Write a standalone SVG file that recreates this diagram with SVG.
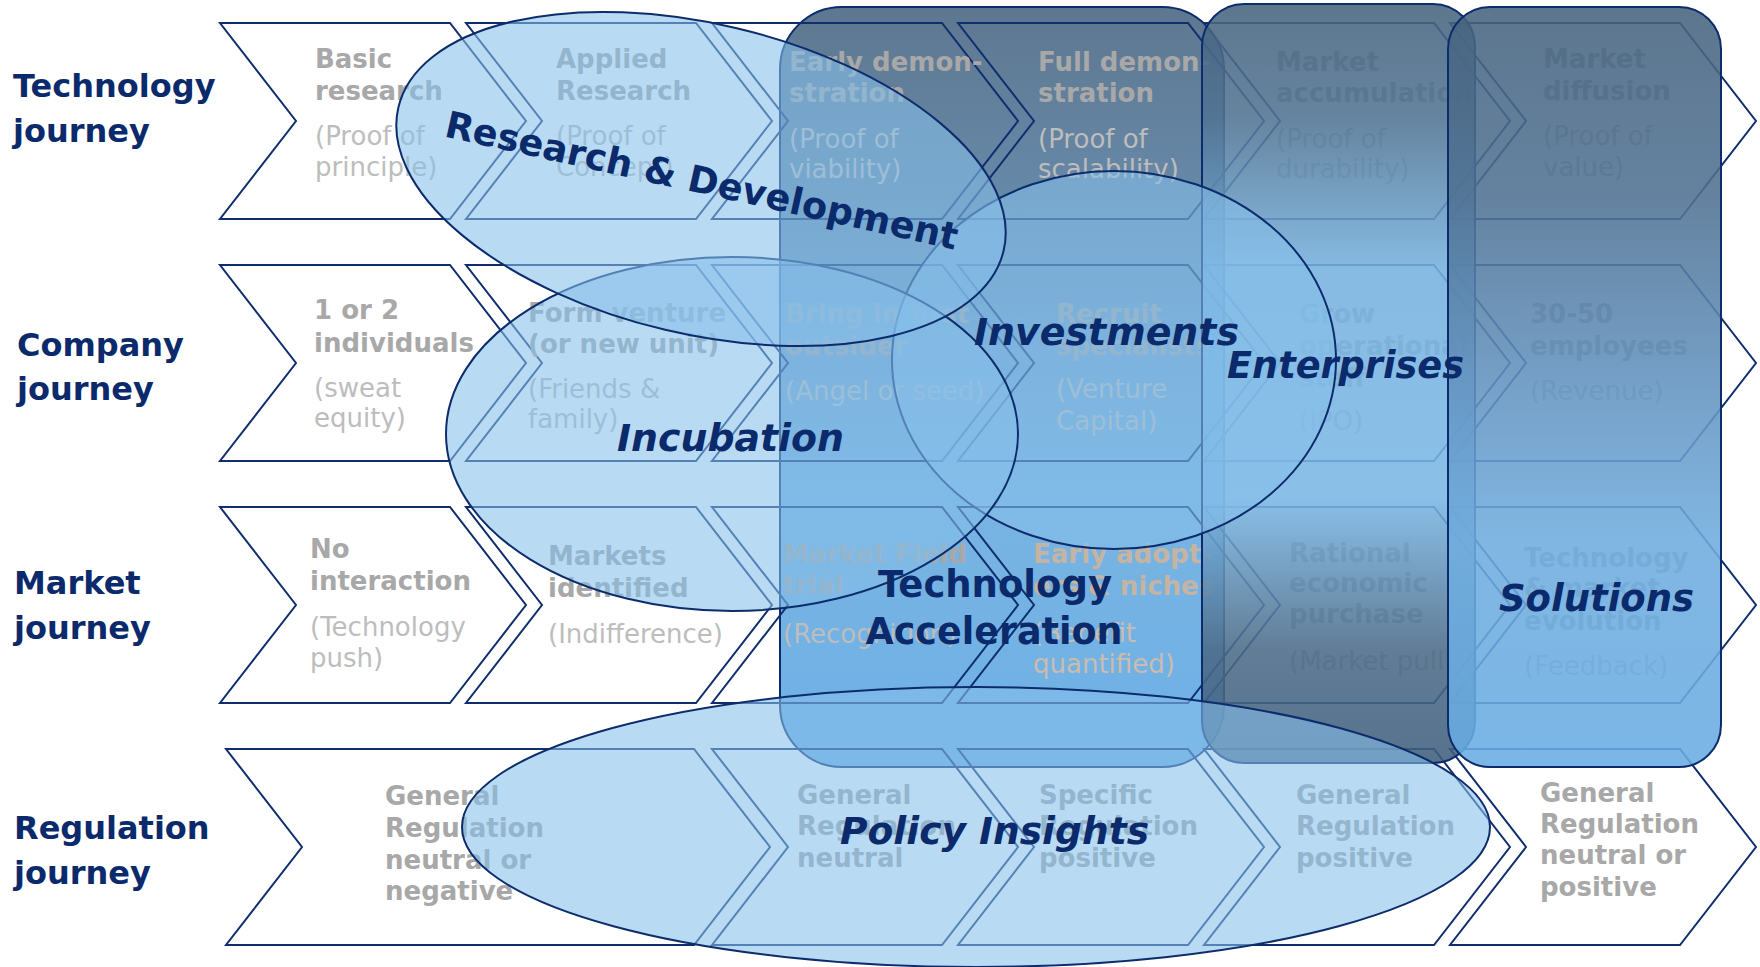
<svg xmlns="http://www.w3.org/2000/svg" width="1760" height="967" viewBox="0 0 1760 967">
<defs>
<style>
.chev{fill:none;stroke:#0f2e6e;stroke-width:2}
.t{font-family:"DejaVu Sans",Verdana,sans-serif;font-size:26px;font-weight:bold;fill:#a8a8a8}
.s{font-family:"DejaVu Sans",Verdana,sans-serif;font-size:26px;fill:#bdbdbd}
.tw{fill:#c6b4a3}
.sw{fill:#cbbcad}
.row{font-family:"DejaVu Sans",Verdana,sans-serif;font-size:32px;font-weight:bold;fill:#0b2a6b}
.lbl{font-family:"DejaVu Sans",Verdana,sans-serif;font-size:37px;font-weight:bold;fill:#0b2a6b}
.it{font-style:italic}
.ell{fill:#86c0ea;fill-opacity:0.58;stroke:#0c2c6c;stroke-width:2}
.box{stroke:#0c2c6c;stroke-width:2}
</style>
<linearGradient id="gTA" x1="0" y1="0" x2="0" y2="1">
<stop offset="0" stop-color="#5e7790"/>
<stop offset="0.25" stop-color="#6689a8"/>
<stop offset="0.45" stop-color="#70a2cc"/>
<stop offset="0.65" stop-color="#78b4e2"/>
<stop offset="1" stop-color="#6eb0e6"/>
</linearGradient>
<linearGradient id="gEN" x1="0" y1="0" x2="0" y2="1">
<stop offset="0" stop-color="#46637e"/>
<stop offset="0.15" stop-color="#517392"/>
<stop offset="0.35" stop-color="#76b1de"/>
<stop offset="0.65" stop-color="#7ab7e5"/>
<stop offset="0.85" stop-color="#4c6b88"/>
<stop offset="1" stop-color="#3e5e7c"/>
</linearGradient>
<linearGradient id="gSO" x1="0" y1="0" x2="0" y2="1">
<stop offset="0" stop-color="#46637e"/>
<stop offset="0.25" stop-color="#4f7192"/>
<stop offset="0.5" stop-color="#6393c0"/>
<stop offset="0.7" stop-color="#6facde"/>
<stop offset="1" stop-color="#68ace3"/>
</linearGradient>
</defs>
<rect width="1760" height="967" fill="#ffffff"/>

<g id="box-technology-acceleration">
<rect class="box" x="780" y="7" width="444" height="760" rx="62" fill="url(#gTA)"/>
</g>

<g id="row-labels">
<g id="label-technology-journey"><text class="row" x="13" y="97">Technology</text><text class="row" x="13" y="142">journey</text></g>
<g id="label-company-journey"><text class="row" x="17" y="356">Company</text><text class="row" x="17" y="400">journey</text></g>
<g id="label-market-journey"><text class="row" x="14" y="594">Market</text><text class="row" x="14" y="639">journey</text></g>
<g id="label-regulation-journey"><text class="row" x="14" y="839">Regulation</text><text class="row" x="14" y="884">journey</text></g>
</g>

<g id="technology-row">
<g id="t1"><polygon class="chev" points="220,23 450,23 526,121 450,219 220,219 296,121"/>
<text class="t" x="315" y="68">Basic</text><text class="t" x="315" y="100">research</text><text class="s" x="315" y="145">(Proof of</text><text class="s" x="315" y="176">principle)</text></g>
<g id="t2"><polygon class="chev" points="466,23 696,23 772,121 696,219 466,219 542,121"/>
<text class="t" x="556" y="68">Applied</text><text class="t" x="556" y="100">Research</text><text class="s" x="556" y="145">(Proof of</text><text class="s" x="556" y="176">Concept)</text></g>
<g id="t3"><polygon class="chev" points="712,23 942,23 1018,121 942,219 712,219 788,121"/>
<text class="t" x="789" y="71">Early demon-</text><text class="t" x="789" y="102">stration</text><text class="s" x="789" y="148">(Proof of</text><text class="s" x="789" y="178">viability)</text></g>
<g id="t4"><polygon class="chev" points="958,23 1188,23 1264,121 1188,219 958,219 1034,121"/>
<text class="t" x="1038" y="71">Full demon-</text><text class="t" x="1038" y="102">stration</text><text class="s" x="1038" y="148">(Proof of</text><text class="s" x="1038" y="178">scalability)</text></g>
<g id="t5"><polygon class="chev" points="1204,23 1434,23 1510,121 1434,219 1204,219 1280,121"/>
<text class="t" x="1276" y="71">Market</text><text class="t" x="1276" y="102">accumulation</text><text class="s" x="1276" y="148">(Proof of</text><text class="s" x="1276" y="178">durability)</text></g>
<g id="t6"><polygon class="chev" points="1450,23 1680,23 1756,121 1680,219 1450,219 1526,121"/>
<text class="t" x="1543" y="68">Market</text><text class="t" x="1543" y="100">diffusion</text><text class="s" x="1543" y="145">(Proof of</text><text class="s" x="1543" y="176">value)</text></g>
</g>

<g id="company-row">
<g id="c1"><polygon class="chev" points="220,265 450,265 526,363 450,461 220,461 296,363"/>
<text class="t" x="314" y="319">1 or 2</text><text class="t" x="314" y="352">individuals</text><text class="s" x="314" y="397">(sweat</text><text class="s" x="314" y="427">equity)</text></g>
<g id="c2"><polygon class="chev" points="466,265 696,265 772,363 696,461 466,461 542,363"/>
<text class="t" x="528" y="322">Form venture</text><text class="t" x="528" y="353">(or new unit)</text><text class="s" x="528" y="398">(Friends &amp;</text><text class="s" x="528" y="428">family)</text></g>
<g id="c3"><polygon class="chev" points="712,265 942,265 1018,363 942,461 712,461 788,363"/>
<text class="t" x="785" y="323">Bring in first</text><text class="t" x="785" y="355">outsider</text><text class="s" x="785" y="400">(Angel or seed)</text></g>
<g id="c4"><polygon class="chev" points="958,265 1188,265 1264,363 1188,461 958,461 1034,363"/>
<text class="t" x="1056" y="323">Recruit</text><text class="t" x="1056" y="355">specialists</text><text class="s" x="1056" y="398">(Venture</text><text class="s" x="1056" y="430">Capital)</text></g>
<g id="c5"><polygon class="chev" points="1204,265 1434,265 1510,363 1434,461 1204,461 1280,363"/>
<text class="t" x="1299" y="323">Grow</text><text class="t" x="1299" y="355">operational</text><text class="t" x="1299" y="387">staff</text><text class="s" x="1299" y="430">(IPO)</text></g>
<g id="c6"><polygon class="chev" points="1450,265 1680,265 1756,363 1680,461 1450,461 1526,363"/>
<text class="t" x="1530" y="323">30-50</text><text class="t" x="1530" y="355">employees</text><text class="s" x="1530" y="400">(Revenue)</text></g>
</g>

<g id="market-row">
<g id="m1"><polygon class="chev" points="220,507 450,507 526,605 450,703 220,703 296,605"/>
<text class="t" x="310" y="558">No</text><text class="t" x="310" y="590">interaction</text><text class="s" x="310" y="636">(Technology</text><text class="s" x="310" y="667">push)</text></g>
<g id="m2"><polygon class="chev" points="466,507 696,507 772,605 696,703 466,703 542,605"/>
<text class="t" x="548" y="565">Markets</text><text class="t" x="548" y="597">identified</text><text class="s" x="548" y="643">(Indifference)</text></g>
<g id="m3"><polygon class="chev" points="712,507 942,507 1018,605 942,703 712,703 788,605"/>
<text class="t" x="783" y="563">Market Field</text><text class="t" x="783" y="594">trial</text><text class="s" x="783" y="643">(Recognition)</text></g>
<g id="m4"><polygon class="chev" points="958,507 1188,507 1264,605 1188,703 958,703 1034,605"/>
<text class="t tw" x="1033" y="563">Early adopt-</text><text class="t tw" x="1033" y="595">ers &amp; niches</text><text class="s sw" x="1033" y="642">(Benefit</text><text class="s sw" x="1033" y="673">quantified)</text></g>
<g id="m5"><polygon class="chev" points="1204,507 1434,507 1510,605 1434,703 1204,703 1280,605"/>
<text class="t" x="1289" y="562">Rational</text><text class="t" x="1289" y="592">economic</text><text class="t" x="1289" y="623">purchase</text><text class="s" x="1289" y="670">(Market pull)</text></g>
<g id="m6"><polygon class="chev" points="1450,507 1680,507 1756,605 1680,703 1450,703 1526,605"/>
<text class="t" x="1524" y="567">Technology</text><text class="t" x="1524" y="597">&amp; market</text><text class="t" x="1524" y="630">evolution</text><text class="s" x="1524" y="675">(Feedback)</text></g>
</g>

<g id="regulation-row">
<g id="r1"><polygon class="chev" points="226,749 694,749 770,847 694,945 226,945 302,847"/>
<text class="t" x="385" y="805">General</text><text class="t" x="385" y="837">Regulation</text><text class="t" x="385" y="869">neutral or</text><text class="t" x="385" y="900">negative</text></g>
<g id="r2"><polygon class="chev" points="712,749 942,749 1018,847 942,945 712,945 788,847"/>
<text class="t" x="797" y="804">General</text><text class="t" x="797" y="835">Regulation</text><text class="t" x="797" y="867">neutral</text></g>
<g id="r3"><polygon class="chev" points="958,749 1188,749 1264,847 1188,945 958,945 1034,847"/>
<text class="t" x="1039" y="804">Specific</text><text class="t" x="1039" y="835">Regulation</text><text class="t" x="1039" y="867">positive</text></g>
<g id="r4"><polygon class="chev" points="1204,749 1434,749 1510,847 1434,945 1204,945 1280,847"/>
<text class="t" x="1296" y="804">General</text><text class="t" x="1296" y="835">Regulation</text><text class="t" x="1296" y="867">positive</text></g>
<g id="r5"><polygon class="chev" points="1450,749 1680,749 1756,847 1680,945 1450,945 1526,847"/>
<text class="t" x="1540" y="802">General</text><text class="t" x="1540" y="833">Regulation</text><text class="t" x="1540" y="864">neutral or</text><text class="t" x="1540" y="896">positive</text></g>
</g>

<g id="box-enterprises">
<rect class="box" x="1202" y="4" width="273" height="759" rx="42" fill="url(#gEN)" fill-opacity="0.88"/>
</g>
<g id="box-solutions">
<rect class="box" x="1448" y="7" width="273" height="760" rx="42" fill="url(#gSO)" fill-opacity="0.88"/>
</g>

<g id="ellipse-investments"><ellipse class="ell" cx="1114" cy="360" rx="222" ry="189"/></g>
<g id="ellipse-incubation"><ellipse class="ell" cx="732" cy="434" rx="286" ry="177"/></g>
<g id="ellipse-research-development"><ellipse class="ell" cx="701" cy="179" rx="311" ry="155" transform="rotate(13.35 701 179)"/></g>
<g id="ellipse-policy-insights"><ellipse class="ell" cx="976" cy="827" rx="514" ry="140"/></g>

<g id="connectors"/>

<g id="overlay-labels">
<text class="lbl" x="699" y="193" text-anchor="middle" textLength="524" lengthAdjust="spacingAndGlyphs" transform="rotate(12.5 699 193)">Research &amp; Development</text>
<text class="lbl it" x="617" y="451" textLength="227" lengthAdjust="spacingAndGlyphs">Incubation</text>
<text class="lbl it" x="974" y="345" textLength="265" lengthAdjust="spacingAndGlyphs">Investments</text>
<text class="lbl it" x="1227" y="378" textLength="237" lengthAdjust="spacingAndGlyphs">Enterprises</text>
<text class="lbl" x="995" y="597" text-anchor="middle" textLength="234" lengthAdjust="spacingAndGlyphs">Technology</text>
<text class="lbl" x="994" y="644" text-anchor="middle" textLength="257" lengthAdjust="spacingAndGlyphs">Acceleration</text>
<text class="lbl it" x="1499" y="611" textLength="195" lengthAdjust="spacingAndGlyphs">Solutions</text>
<text class="lbl it" x="840" y="844" textLength="309" lengthAdjust="spacingAndGlyphs">Policy Insights</text>
</g>
</svg>
